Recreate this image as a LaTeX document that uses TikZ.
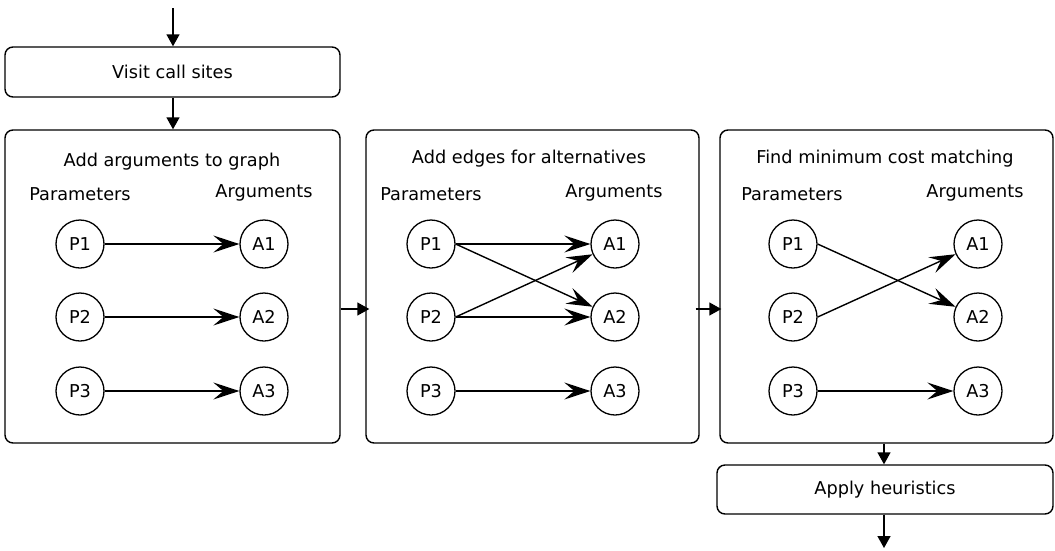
\documentclass[tikz,border=0pt]{standalone}
\usepackage{fontspec}
\setmainfont{DejaVu Sans}
\usetikzlibrary{arrows.meta}
\begin{document}
\begin{tikzpicture}[x=1pt,y=-1pt,
  txt/.style={inner sep=0pt,anchor=base,font=\fontsize{17.7}{20}\selectfont},
  stage/.style={draw,line width=1.4pt,rounded corners=8pt,inner sep=0pt,
    font=\fontsize{17.7}{20}\selectfont},
  vtx/.style={draw,circle,line width=1.3pt,minimum size=48pt,inner sep=0pt,
    font=\fontsize{17.7}{20}\selectfont},
  flow/.style={line width=1.4pt,-{Triangle[length=12pt,width=13pt]}},
  link/.style={line width=1.4pt,-{Stealth[length=26pt,width=17pt,inset=10pt]}}]
\useasboundingbox (0,0) rectangle (1055,550);

% pipeline stages
\node[stage,minimum width=335pt,minimum height=50pt] (visit) at (172.5,72) {Visit call sites};
\node[stage,minimum width=335pt,minimum height=313pt] (s1) at (172.5,286.5) {};
\node[stage,minimum width=333pt,minimum height=313pt] (s2) at (532.5,286.5) {};
\node[stage,minimum width=333pt,minimum height=313pt] (s3) at (886.5,286.5) {};
\node[stage,minimum width=336pt,minimum height=49pt] (heur) at (885,489.5) {Apply heuristics};

\coordinate (in) at (173,8);
\coordinate (out) at (884,548);

\draw[flow] (in) -- (visit.north -| in);
\draw[flow] (visit.south -| in) -- (s1.north -| in);
\draw[flow] (s1.east |- 0,309) -- ([xshift=4pt]s2.west |- 0,309);
\draw[flow] ([xshift=-4pt]s2.east |- 0,309) -- ([xshift=2pt]s3.west |- 0,309);
\draw[flow] (s3.south -| out) -- (heur.north -| out);
\draw[flow] (heur.south -| out) -- (out);

% stage 1: one argument per parameter
\node[txt] (t1) at (172,166.5) {Add arguments to graph};
\node[txt] (p1h) at (80,200) {Parameters};
\node[txt] (a1h) at (264,197) {Arguments};
\node[vtx] (aP1) at (80,244) {P1};
\node[vtx] (aP2) at (80,317) {P2};
\node[vtx] (aP3) at (80,391) {P3};
\node[vtx] (aA1) at (264,244) {A1};
\node[vtx] (aA2) at (264,317) {A2};
\node[vtx] (aA3) at (264,391) {A3};
\draw[link] (aP1) -- (aA1);
\draw[link] (aP2) -- (aA2);
\draw[link] (aP3) -- (aA3);

% stage 2: alternative edges
\node[txt] (t2) at (529,163) {Add edges for alternatives};
\node[txt] (p2h) at (431,200) {Parameters};
\node[txt] (a2h) at (614,197) {Arguments};
\node[vtx] (bP1) at (431,244) {P1};
\node[vtx] (bP2) at (431,317) {P2};
\node[vtx] (bP3) at (431,391) {P3};
\node[vtx] (bA1) at (615,244) {A1};
\node[vtx] (bA2) at (615,317) {A2};
\node[vtx] (bA3) at (615,391) {A3};
\draw[link] (bP1) -- (bA1);
\draw[link] (bP1.east) -- (bA2);
\draw[link] (bP2.east) -- (bA1);
\draw[link] (bP2) -- (bA2);
\draw[link] (bP3) -- (bA3);

% stage 3: chosen matching
\node[txt] (t3) at (885,163) {Find minimum cost matching};
\node[txt] (p3h) at (792,200) {Parameters};
\node[txt] (a3h) at (975,197) {Arguments};
\node[vtx] (cP1) at (793,244) {P1};
\node[vtx] (cP2) at (793,317) {P2};
\node[vtx] (cP3) at (793,391) {P3};
\node[vtx] (cA1) at (978,244) {A1};
\node[vtx] (cA2) at (978,317) {A2};
\node[vtx] (cA3) at (978,391) {A3};
\draw[link] (cP1.east) -- (cA2);
\draw[link] (cP2.east) -- (cA1);
\draw[link] (cP3) -- (cA3);
\end{tikzpicture}
\end{document}
